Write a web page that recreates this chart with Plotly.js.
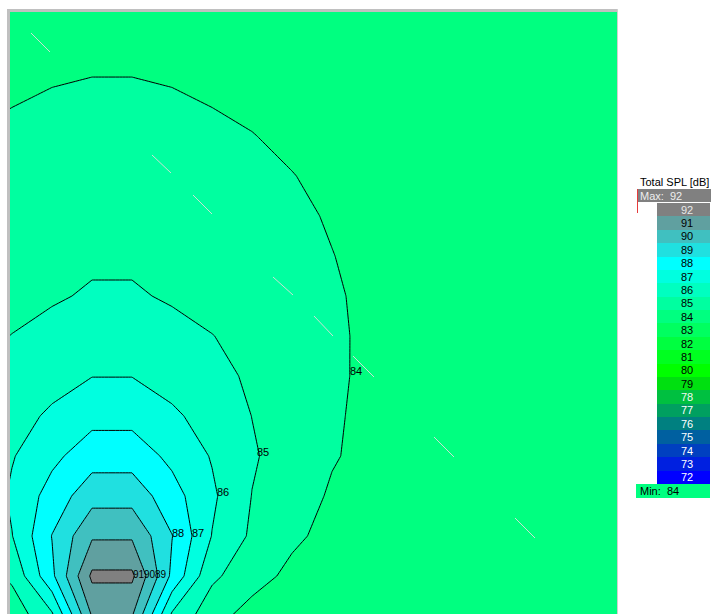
<!DOCTYPE html>
<html>
<head>
<meta charset="utf-8">
<script src="https://cdn.plot.ly/plotly-3.0.1.min.js"></script>
<style>
html,body{margin:0;padding:0;background:#ffffff;}
#chart{width:712px;height:614px;}
</style>
</head>
<body>
<div id="chart"></div>
<script>
// ---- grid coordinates (horizontal offset / height relative to the source, screen units) ----
const gridX = [-140,-100,-60,-20,20,60,100,140,180,220,260,300,340,380,420,460,500,540];
const gridY = [-40,0,40,80,120,160,200,240,280,320,360,400,440,480,520,560,600];

// ---- Total SPL [dB] at the grid nodes (one row per gridY value) ----
const splRowM40 = [83.60,84.38,85.80,90.05,90.05,85.80,84.38,83.60,83.55,83.52,83.50,83.48,83.46,83.45,83.44,83.43,83.42,83.41];
const splRow0   = [84.41,85.19,87.78,91.20,91.20,87.78,85.19,84.41,83.75,83.70,83.65,83.62,83.60,83.58,83.56,83.55,83.54,83.53];
const splRow40  = [84.84,85.97,88.03,89.87,89.87,88.03,85.97,84.84,84.19,83.70,83.68,83.66,83.64,83.62,83.60,83.58,83.57,83.56];
const splRow80  = [84.98,86.17,87.40,88.62,88.62,87.40,86.17,84.98,84.44,83.89,83.78,83.72,83.69,83.66,83.64,83.62,83.60,83.59];
const splRow120 = [85.10,85.93,86.76,87.55,87.55,86.76,85.93,85.10,84.57,84.07,83.75,83.74,83.71,83.68,83.66,83.64,83.62,83.61];
const splRow160 = [84.99,85.60,86.17,86.69,86.69,86.17,85.60,84.99,84.56,84.14,83.72,83.74,83.72,83.70,83.68,83.66,83.64,83.62];
const splRow200 = [84.88,85.24,85.61,85.98,85.98,85.61,85.24,84.88,84.52,84.16,83.80,83.76,83.73,83.71,83.69,83.67,83.65,83.63];
const splRow240 = [84.72,85.02,85.28,85.54,85.54,85.28,85.02,84.72,84.43,84.13,83.84,83.78,83.75,83.72,83.70,83.68,83.66,83.64];
const splRow280 = [84.49,84.69,84.90,85.10,85.10,84.90,84.69,84.49,84.28,84.07,83.87,83.80,83.76,83.73,83.71,83.69,83.67,83.65];
const splRow320 = [84.35,84.52,84.68,84.85,84.85,84.68,84.52,84.35,84.18,84.01,83.88,83.81,83.77,83.74,83.72,83.70,83.68,83.66];
const splRow360 = [84.24,84.38,84.52,84.66,84.66,84.52,84.38,84.24,84.09,83.96,83.88,83.82,83.78,83.75,83.72,83.70,83.68,83.66];
const splRow400 = [84.12,84.24,84.35,84.47,84.47,84.35,84.24,84.12,84.01,83.92,83.87,83.82,83.78,83.75,83.72,83.70,83.68,83.66];
const splRow440 = [84.01,84.10,84.19,84.28,84.28,84.19,84.10,84.01,83.93,83.88,83.85,83.81,83.78,83.75,83.72,83.70,83.68,83.66];
const splRow480 = [83.92,83.96,84.03,84.09,84.09,84.03,83.96,83.92,83.88,83.85,83.83,83.80,83.77,83.74,83.72,83.70,83.68,83.66];
const splRow520 = [83.86,83.88,83.89,83.90,83.90,83.89,83.88,83.86,83.84,83.82,83.80,83.78,83.76,83.74,83.71,83.69,83.67,83.65];
const splRow560 = [83.78,83.79,83.80,83.80,83.80,83.80,83.79,83.78,83.77,83.76,83.75,83.74,83.72,83.70,83.69,83.67,83.65,83.64];
const splRow600 = [83.70,83.71,83.72,83.72,83.72,83.72,83.71,83.70,83.70,83.69,83.68,83.67,83.66,83.65,83.64,83.63,83.62,83.61];

// ---- contour levels and band colours (below 84, 84-85, ..., above 91) ----
const contourStart = 84, contourEnd = 91, contourStep = 1;
const bandColors = ['rgb(0,255,128)','rgb(0,255,160)','rgb(0,255,192)','rgb(0,255,224)',
  'rgb(0,255,255)','rgb(32,224,224)','rgb(64,192,192)','rgb(96,160,160)','rgb(128,128,128)'];

// ---- contour line labels: level and where it is written (on the right flank of each line) ----
const labelLevels = [84, 85, 86, 87, 88, 89, 90, 91];
const labelX = [238, 145, 105, 80, 60, 43, 32, 21];
const labelY = [204, 123, 83, 42, 42, 1, 1, 1];

// ---- faint diagonal reference segments (null separates segments) ----
const dashX = [-81,-62,null,40,59,null,81,100,null,161,181,null,202,221,null,241,262,null,322,342,null,403,423];
const dashY = [543,524,null,421,403,null,381,362,null,299,281,null,260,240,null,220,199,null,139,119,null,58,38];

// ---- legend ----
const legendValues = [72,73,74,75,76,77,78,79,80,81,82,83,84,85,86,87,88,89,90,91,92];
const legendColors = ['rgb(0,0,255)','rgb(0,32,224)','rgb(0,64,192)','rgb(0,96,160)','rgb(0,128,128)',
  'rgb(0,160,96)','rgb(0,192,64)','rgb(0,224,16)','rgb(0,255,0)','rgb(0,255,32)','rgb(0,255,64)',
  'rgb(0,255,96)','rgb(0,255,128)','rgb(0,255,160)','rgb(0,255,192)','rgb(0,255,224)','rgb(0,255,255)',
  'rgb(32,224,224)','rgb(64,192,192)','rgb(96,160,160)','rgb(128,128,128)'];
const legendTextColors = ['#ffffff','#ffffff','#ffffff','#ffffff','#ffffff','#ffffff','#f0f8f0',
  '#000000','#000000','#000000','#000000','#000000','#000000','#000000','#000000','#000000','#000000',
  '#000000','#000000','#000000','#e8e8e8'];
const legendTitle = 'Total SPL [dB]';
const legendMax = 92, legendMin = 84;

// ---------------------------------------------------------------
const W = 712, H = 614;
const px = v => v / W;            // screen x -> paper
const py = v => (H - v) / H;      // screen y -> paper
const FONT = 'Liberation Sans, Arial, sans-serif';

const z = [splRowM40, splRow0, splRow40, splRow80, splRow120, splRow160, splRow200, splRow240,
  splRow280, splRow320, splRow360, splRow400, splRow440, splRow480, splRow520, splRow560, splRow600];

const nBands = bandColors.length;
const contourScale = bandColors.map((c, i) => [i / (nBands - 1), c]);

const contourTrace = {
  type: 'contour',
  x: gridX, y: gridY, z: z,
  autocontour: false,
  contours: {start: contourStart, end: contourEnd, size: contourStep, coloring: 'fill', showlabels: false},
  colorscale: contourScale,
  line: {color: '#000000', width: 1, smoothing: 0},
  showscale: false,
  hoverinfo: 'skip',
  xaxis: 'x', yaxis: 'y'
};

const dashTrace = {
  type: 'scatter', mode: 'lines',
  x: dashX, y: dashY,
  line: {color: 'rgba(215,222,215,0.95)', width: 1},
  connectgaps: false, hoverinfo: 'skip', showlegend: false,
  xaxis: 'x', yaxis: 'y'
};

const labelTrace = {
  type: 'scatter', mode: 'text',
  x: labelX, y: labelY, text: labelLevels.map(String),
  textposition: 'middle right',
  textfont: {family: FONT, size: labelLevels.map(l => l >= 89 ? 10 : 11), color: '#000000'},
  cliponaxis: false, hoverinfo: 'skip', showlegend: false,
  xaxis: 'x', yaxis: 'y'
};

const lmin = legendValues[0], lmax = legendValues[legendValues.length - 1];
const legendScale = legendColors.map((c, i) => [(legendValues[i] - lmin) / (lmax - lmin), c]);
const legendTrace = {
  type: 'heatmap',
  x: [0], y: legendValues,
  z: legendValues.map(v => [v]),
  zmin: lmin, zmax: lmax,
  colorscale: legendScale,
  showscale: false, hoverinfo: 'skip',
  xaxis: 'x2', yaxis: 'y2'
};

const annotations = legendValues.map((v, i) => ({
  xref: 'x2', yref: 'y2', x: 0, y: v, text: String(v), showarrow: false,
  xshift: 3,
  font: {family: FONT, size: 11, color: legendTextColors[i]}
}));
annotations.push({
  xref: 'paper', yref: 'paper', x: px(674), y: py(182), text: legendTitle, showarrow: false,
  xanchor: 'center', yanchor: 'middle',
  font: {family: FONT, size: 11, color: '#000000'}
});
annotations.push({
  xref: 'paper', yref: 'paper', x: px(638), y: py(195.5), text: 'Max:  ' + legendMax, showarrow: false,
  xanchor: 'left', yanchor: 'middle',
  font: {family: FONT, size: 11, color: '#eeeeee'}
});
annotations.push({
  xref: 'paper', yref: 'paper', x: px(638), y: py(491), text: 'Min:  ' + legendMin, showarrow: false,
  xanchor: 'left', yanchor: 'middle',
  font: {family: FONT, size: 11, color: '#000000'}
});

const rect = (x0, y0, x1, y1, fill) => ({
  type: 'rect', xref: 'paper', yref: 'paper',
  x0: px(x0), x1: px(x1), y0: py(y1), y1: py(y0),
  fillcolor: fill, line: {width: 0}, layer: 'above'
});

const shapes = [
  rect(7, 9, 10, 614, '#c0c0c0'),
  rect(7, 9, 618, 12, '#c0c0c0'),
  rect(617, 9, 618, 614, '#d0d0d0'),
  rect(637, 189, 711, 202, 'rgb(128,128,128)'),
  rect(637, 189, 638, 213, 'rgb(230,60,60)'),
  rect(636, 484, 710, 498, 'rgb(0,255,128)')
];

const axisOff = {showgrid: false, zeroline: false, showticklabels: false, ticks: '', showline: false, fixedrange: true};

const layout = {
  width: W, height: H,
  margin: {l: 0, r: 0, t: 0, b: 0},
  paper_bgcolor: '#ffffff',
  plot_bgcolor: 'rgb(0,255,128)',
  showlegend: false,
  xaxis: Object.assign({}, axisOff, {domain: [px(10), px(617)], range: [-102, 505]}),
  yaxis: Object.assign({}, axisOff, {domain: [0, py(12)], range: [-38, 564]}),
  xaxis2: Object.assign({}, axisOff, {domain: [px(657), px(710)], range: [-0.5, 0.5], anchor: 'y2'}),
  yaxis2: Object.assign({}, axisOff, {domain: [py(484), py(203)], range: [lmin - 0.5, lmax + 0.5], anchor: 'x2'}),
  shapes: shapes,
  annotations: annotations
};

Plotly.newPlot('chart', [contourTrace, dashTrace, labelTrace, legendTrace], layout, {displayModeBar: false, staticPlot: true});
</script>
</body>
</html>
